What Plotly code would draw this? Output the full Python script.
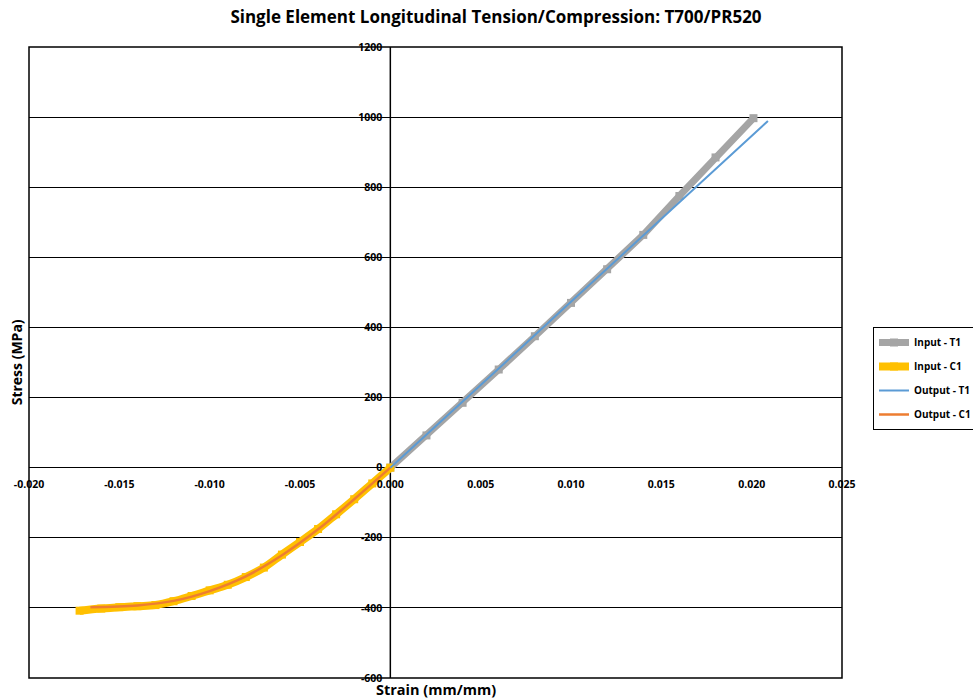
import plotly.graph_objects as go

# Material input curves (strain in mm/mm, stress in MPa)
t1_in_strain = [0.0, 0.002, 0.004, 0.006, 0.008, 0.010, 0.012, 0.014, 0.016, 0.018, 0.0201]
t1_in_stress = [0, 92, 185, 280, 375, 470, 566, 664, 775, 885, 997]

c1_in_strain = [0.0, -0.001, -0.002, -0.003, -0.004, -0.005, -0.006, -0.007, -0.008, -0.009,
                -0.010, -0.011, -0.012, -0.013, -0.014, -0.015, -0.016, -0.0172]
c1_in_stress = [0, -45, -90, -133, -175, -212, -248, -285, -312, -334,
                -350, -366, -381, -392, -395, -398, -402, -408]

# Single element simulation output
t1_out_strain = [0.0, 0.002, 0.006, 0.010, 0.014, 0.018, 0.0209]
t1_out_stress = [0, 94, 283, 473, 662, 851, 989]

c1_out_strain = [0.0, -0.002, -0.004, -0.006, -0.008, -0.010, -0.012, -0.014, -0.0166]
c1_out_stress = [0, -90, -176, -250, -310, -352, -380, -393, -398]

x_ticks = [-0.020, -0.015, -0.010, -0.005, 0.0, 0.005, 0.010, 0.015, 0.020, 0.025]
y_ticks = [-600, -400, -200, 0, 200, 400, 600, 800, 1000, 1200]

FONT = "Open Sans"

fig = go.Figure()
fig.add_trace(go.Scatter(
    x=t1_in_strain, y=t1_in_stress, name="<b>Input - T1</b>", mode="lines+markers",
    legendgroup="a",
    line=dict(color="#A5A5A5", width=7),
    marker=dict(symbol="square", size=8, color="#A5A5A5"),
))
fig.add_trace(go.Scatter(
    x=c1_in_strain, y=c1_in_stress, name="<b>Input - C1</b>", mode="lines+markers",
    legendgroup="b",
    line=dict(color="#FFC000", width=8, shape="spline"),
    marker=dict(symbol="square", size=8, color="#FFC000"),
))
fig.add_trace(go.Scatter(
    x=t1_out_strain, y=t1_out_stress, name="<b>Output - T1</b>", mode="lines",
    legendgroup="c",
    line=dict(color="#5B9BD5", width=2),
))
fig.add_trace(go.Scatter(
    x=c1_out_strain, y=c1_out_stress, name="<b>Output - C1</b>", mode="lines",
    legendgroup="d",
    line=dict(color="#ED7D31", width=2.5, shape="spline"),
))

fig.update_layout(
    width=973, height=700,
    margin=dict(l=29, r=131, t=47, b=22, autoexpand=False),
    paper_bgcolor="white", plot_bgcolor="white",
    font=dict(family=FONT, color="black"),
    title=dict(
        text="<b>Single Element Longitudinal Tension/Compression: T700/PR520</b>",
        x=496 / 973, xref="container", xanchor="center", y=0.976, yanchor="middle",
        font=dict(size=17, family=FONT),
    ),
    xaxis=dict(
        range=[-0.020, 0.025], tickvals=x_ticks,
        ticktext=[f"<b>{v:.3f}</b>" for v in x_ticks],
        showgrid=False, zeroline=False, showline=False,
        anchor="free", position=1 / 3, ticks="", ticklabelstandoff=9,
        tickfont=dict(size=10.5, family=FONT),
    ),
    yaxis=dict(
        range=[-600, 1200], tickvals=y_ticks,
        ticktext=[f"<b>{v}</b>" for v in y_ticks],
        showgrid=True, gridcolor="black", gridwidth=1,
        zeroline=False, showline=False,
        anchor="free", position=0.02 / 0.045, ticks="", ticklabelstandoff=8,
        tickfont=dict(size=10.5, family=FONT),
    ),
    legend=dict(
        x=(873 - 29) / 813, y=(678 - 327) / 631, xanchor="left", yanchor="top",
        bordercolor="black", borderwidth=1, tracegroupgap=5, itemwidth=30,
        font=dict(size=10, family=FONT), bgcolor="white",
    ),
    annotations=[
        dict(text="<b>Strain (mm/mm)</b>", xref="paper", yref="paper",
             x=0.5, y=-0.019, yanchor="middle", showarrow=False,
             font=dict(size=14.5, family=FONT)),
        dict(text="<b>Stress (MPa)</b>", xref="paper", yref="paper",
             x=-0.015, y=0.5, xanchor="center", showarrow=False, textangle=-90,
             font=dict(size=14, family=FONT)),
    ],
    shapes=[
        # plot area frame
        dict(type="rect", xref="paper", yref="paper", x0=0, y0=0, x1=1, y1=1,
             line=dict(color="black", width=1.5), layer="above"),
        # y axis line through zero strain
        dict(type="line", xref="x", yref="paper", x0=0, x1=0, y0=0, y1=1,
             line=dict(color="black", width=1.5), layer="below"),
    ],
)

fig.write_html("out.html")
